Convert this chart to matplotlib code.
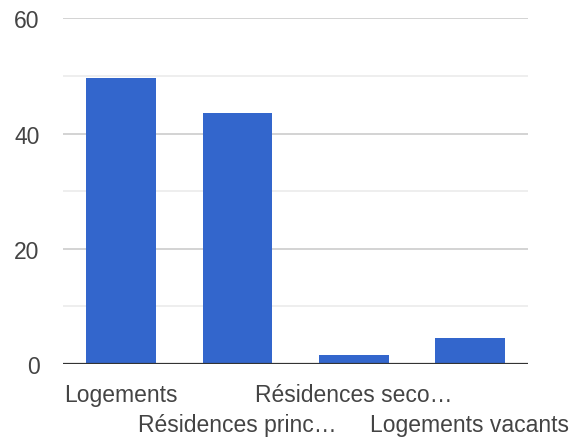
import matplotlib.pyplot as plt
from matplotlib.ticker import MultipleLocator

plt.rcParams['font.family'] = ['Liberation Sans', 'DejaVu Sans']

# data
categories = ["Logements", "Résidences princ…", "Résidences seco…", "Logements vacants"]
values = [49.7, 43.6, 1.6, 4.5]
yticks = [0, 20, 40, 60]

fig = plt.figure(figsize=(5.74, 4.39), dpi=100)
ax = fig.add_axes([0.1098, 0.1686, 0.8102, 0.7874])

x = list(range(len(categories)))
ax.bar(x, values, width=0.6, color="#3366cc", zorder=3)

ax.set_xlim(-0.5, len(categories) - 0.5)
ax.set_ylim(0, 60)
ax.set_yticks(yticks)
ax.yaxis.set_minor_locator(MultipleLocator(10))
ax.grid(axis="y", which="major", color="#cccccc", linewidth=1.2, zorder=0)
ax.grid(axis="y", which="minor", color="#ebebeb", linewidth=1.2, zorder=0)
ax.axhline(0, color="#333333", linewidth=1.6, zorder=4)

for s in ax.spines.values():
    s.set_visible(False)

ax.tick_params(axis="y", which="both", length=0, pad=17, labelsize=16.5, labelcolor="#444444")
ax.set_xticks(x)
ax.set_xticklabels(categories)
ax.tick_params(axis="x", length=0, labelsize=16.5, labelcolor="#444444")
for i, t in enumerate(ax.xaxis.get_major_ticks()):
    t.set_pad(13.5 if i % 2 == 0 else 35.5)

fig.savefig("out.png", dpi=100)
